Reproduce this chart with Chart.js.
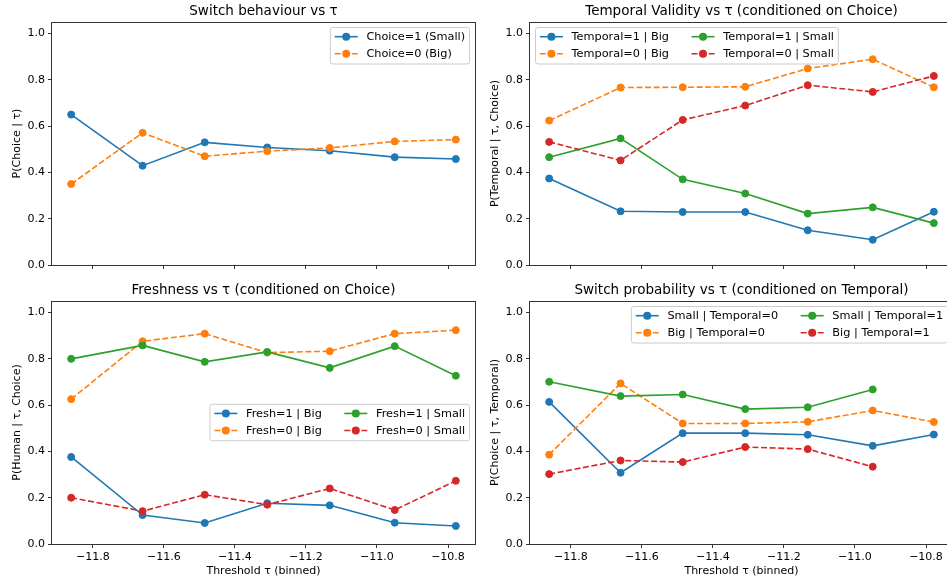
<!DOCTYPE html>
<html>
<head>
<meta charset="utf-8">
<script src="https://cdn.jsdelivr.net/npm/chart.js@4.4.0/dist/chart.umd.min.js"></script>
<style>
body { margin: 0; background: #fff; }
#fig { position: relative; width: 947px; height: 583px; overflow: hidden; }
#fig canvas { position: absolute; }
</style>
</head>
<body>
<div id="fig">
  <canvas id="switchChart" width="480" height="280" style="left:0;top:0;width:480px;height:280px"></canvas>
  <canvas id="temporalChart" width="480" height="280" style="left:478px;top:0;width:480px;height:280px"></canvas>
  <canvas id="freshChart" width="480" height="304" style="left:0;top:279px;width:480px;height:304px"></canvas>
  <canvas id="switchTempChart" width="480" height="304" style="left:478px;top:279px;width:480px;height:304px"></canvas>
</div>
<script>
// binned thresholds (x) and axis ticks
var tauBins = [-11.861, -11.660, -11.485, -11.309, -11.133, -10.950, -10.778];
var xTicks = [-11.8, -11.6, -11.4, -11.2, -11.0, -10.8];
var yTicks = [0, 0.2, 0.4, 0.6, 0.8, 1.0];

// Switch behaviour vs tau
var choiceSmall = [0.650, 0.429, 0.530, 0.508, 0.494, 0.466, 0.458];
var choiceBig   = [0.350, 0.571, 0.470, 0.492, 0.506, 0.534, 0.542];

// Temporal validity vs tau
var temporal1Big   = [0.374, 0.232, 0.229, 0.229, 0.150, 0.109, 0.230];
var temporal0Big   = [0.624, 0.767, 0.768, 0.770, 0.849, 0.889, 0.768];
var temporal1Small = [0.466, 0.547, 0.370, 0.309, 0.222, 0.249, 0.181];
var temporal0Small = [0.532, 0.452, 0.627, 0.689, 0.777, 0.748, 0.817];

// Freshness vs tau
var fresh1Big   = [0.376, 0.125, 0.091, 0.176, 0.167, 0.092, 0.078];
var fresh0Big   = [0.626, 0.876, 0.909, 0.827, 0.833, 0.909, 0.924];
var fresh1Small = [0.800, 0.858, 0.787, 0.830, 0.761, 0.855, 0.727];
var fresh0Small = [0.200, 0.142, 0.213, 0.170, 0.240, 0.147, 0.273];

// Switch probability vs tau (conditioned on temporal)
var smallTemp0 = [0.614, 0.308, 0.479, 0.479, 0.472, 0.424, 0.473];
var bigTemp0   = [0.386, 0.694, 0.521, 0.521, 0.528, 0.577, 0.527];
var smallTemp1 = [0.701, 0.639, 0.646, 0.583, 0.591, 0.668, null];
var bigTemp1   = [0.302, 0.361, 0.354, 0.419, 0.410, 0.334, null];

var BLUE = '#1f77b4', ORANGE = '#ff7f0e', GREEN = '#2ca02c', RED = '#d62728';

Chart.defaults.font.family = '"DejaVu Sans", sans-serif';
Chart.defaults.font.size = 11;
Chart.defaults.color = '#000';

// axes frame, title over the axes, matplotlib style legend
var mplLook = {
  id: 'mplLook',
  afterDraw: function(chart, args, opts) {
    var ctx = chart.ctx, a = chart.chartArea;
    ctx.save();
    ctx.strokeStyle = '#333';
    ctx.lineWidth = 1;
    ctx.strokeRect(Math.round(a.left) - 0.5, Math.round(a.top) + 0.5,
      Math.round(a.right - a.left) + 1, Math.round(a.bottom - a.top));

    ctx.font = '13.5px "DejaVu Sans"';
    ctx.fillStyle = '#000';
    ctx.textAlign = 'center';
    ctx.textBaseline = 'middle';
    ctx.fillText(opts.title, (a.left + a.right) / 2, 11);

    var sets = chart.data.datasets;
    var ncol = opts.ncol || 1, nrow = Math.ceil(sets.length / ncol);
    var handle = 23, gap = 8.7, colGap = 22.5, pad = 4.4, rowH = 17;
    ctx.font = '11.3px "DejaVu Sans"';
    var colW = [], total = 0;
    for (var c = 0; c < ncol; c++) {
      var w = 0;
      for (var r = 0; r < nrow; r++) {
        var d = sets[c * nrow + r];
        if (d) w = Math.max(w, ctx.measureText(d.label).width);
      }
      colW.push(handle + gap + w);
      total += handle + gap + w;
    }
    var boxW = pad * 2 + total + (ncol - 1) * colGap;
    var boxH = 19.5 + (nrow - 1) * rowH;
    var x0, y0;
    if (opts.loc == 'upper left') { x0 = a.left + 5.5; y0 = a.top + 5.5; }
    else if (opts.loc == 'center right') { x0 = a.right - 5.5 - boxW; y0 = (a.top + a.bottom) / 2 - boxH / 2; }
    else { x0 = a.right - 5.5 - boxW; y0 = a.top + 5.5; }

    ctx.beginPath();
    ctx.roundRect(x0, y0, boxW, boxH, 2.5);
    ctx.fillStyle = 'rgba(255,255,255,0.8)';
    ctx.fill();
    ctx.strokeStyle = '#cccccc';
    ctx.stroke();

    var cx = x0 + pad;
    for (var c = 0; c < ncol; c++) {
      for (var r = 0; r < nrow; r++) {
        var d = sets[c * nrow + r];
        if (!d) continue;
        var y = y0 + 9.2 + r * rowH;
        ctx.beginPath();
        ctx.setLineDash(d.borderDash || []);
        ctx.strokeStyle = d.borderColor;
        ctx.lineWidth = d.borderWidth;
        ctx.moveTo(cx, y);
        ctx.lineTo(cx + handle, y);
        ctx.stroke();
        ctx.setLineDash([]);
        ctx.beginPath();
        ctx.arc(cx + handle / 2, y, 4, 0, Math.PI * 2);
        ctx.fillStyle = d.borderColor;
        ctx.fill();
        ctx.fillStyle = '#000';
        ctx.textBaseline = 'middle';
        ctx.textAlign = 'left';
        ctx.fillText(d.label, cx + handle + gap, y + 0.5);
      }
      cx += colW[c] + colGap;
    }
    ctx.restore();
  }
};

function makePanel(id, title, yLabel, showX, series, legend) {
  var datasets = series.map(function(s, i) {
    return {
      label: s.label,
      data: tauBins.map(function(x, k) { return {x: x, y: s.values[k]}; }),
      borderColor: s.color,
      backgroundColor: s.color,
      borderWidth: 1.6,
      borderDash: s.dashed ? [6, 2.6] : [],
      pointRadius: 3.5,
      pointBorderWidth: 1,
      pointBackgroundColor: s.color,
      pointBorderColor: s.color,
      tension: 0,
      spanGaps: false,
      order: -i
    };
  });
  var tickGrid = { drawOnChartArea: false, drawTicks: true, tickLength: 4, color: '#333' };
  legend.title = title;

  return new Chart(document.getElementById(id), {
    type: 'line',
    data: { datasets: datasets },
    plugins: [mplLook],
    options: {
      responsive: false,
      animation: false,
      devicePixelRatio: 1,
      layout: { padding: { left: 0, right: 4, top: 22, bottom: 0 } },
      plugins: {
        legend: { display: false },
        tooltip: { enabled: false },
        title: { display: false },
        mplLook: legend
      },
      scales: {
        x: {
          type: 'linear', min: -11.915, max: -10.724,
          afterBuildTicks: function(s) { s.ticks = xTicks.map(function(v) { return {value: v}; }); },
          afterFit: function(s) { s.height = showX ? 39 : 15; },
          ticks: {
            display: showX, padding: 3, maxRotation: 0, autoSkip: false,
            callback: function(v) { return '\u2212' + Math.abs(v).toFixed(1); }
          },
          grid: tickGrid,
          border: { display: false },
          title: { display: showX, text: 'Threshold τ (binned)', padding: { top: 0, bottom: 5.4 } }
        },
        y: {
          min: 0, max: 1.05,
          afterBuildTicks: function(s) { s.ticks = yTicks.map(function(v) { return {value: v}; }); },
          afterFit: function(s) { s.width = 52; },
          ticks: { padding: 3, callback: function(v) { return v.toFixed(1); } },
          grid: tickGrid,
          border: { display: false },
          title: { display: true, text: yLabel, padding: { top: 11, bottom: 0 } }
        }
      }
    }
  });
}

makePanel('switchChart', 'Switch behaviour vs τ', 'P(Choice | τ)', false, [
  {label: 'Choice=1 (Small)', values: choiceSmall, color: BLUE},
  {label: 'Choice=0 (Big)', values: choiceBig, color: ORANGE, dashed: true}
], {loc: 'upper right', ncol: 1});

makePanel('temporalChart', 'Temporal Validity vs τ (conditioned on Choice)', 'P(Temporal | τ, Choice)', false, [
  {label: 'Temporal=1 | Big', values: temporal1Big, color: BLUE},
  {label: 'Temporal=0 | Big', values: temporal0Big, color: ORANGE, dashed: true},
  {label: 'Temporal=1 | Small', values: temporal1Small, color: GREEN},
  {label: 'Temporal=0 | Small', values: temporal0Small, color: RED, dashed: true}
], {loc: 'upper left', ncol: 2});

makePanel('freshChart', 'Freshness vs τ (conditioned on Choice)', 'P(Human | τ, Choice)', true, [
  {label: 'Fresh=1 | Big', values: fresh1Big, color: BLUE},
  {label: 'Fresh=0 | Big', values: fresh0Big, color: ORANGE, dashed: true},
  {label: 'Fresh=1 | Small', values: fresh1Small, color: GREEN},
  {label: 'Fresh=0 | Small', values: fresh0Small, color: RED, dashed: true}
], {loc: 'center right', ncol: 2});

makePanel('switchTempChart', 'Switch probability vs τ (conditioned on Temporal)', 'P(Choice | τ, Temporal)', true, [
  {label: 'Small | Temporal=0', values: smallTemp0, color: BLUE},
  {label: 'Big | Temporal=0', values: bigTemp0, color: ORANGE, dashed: true},
  {label: 'Small | Temporal=1', values: smallTemp1, color: GREEN},
  {label: 'Big | Temporal=1', values: bigTemp1, color: RED, dashed: true}
], {loc: 'upper right', ncol: 2});
</script>
</body>
</html>
